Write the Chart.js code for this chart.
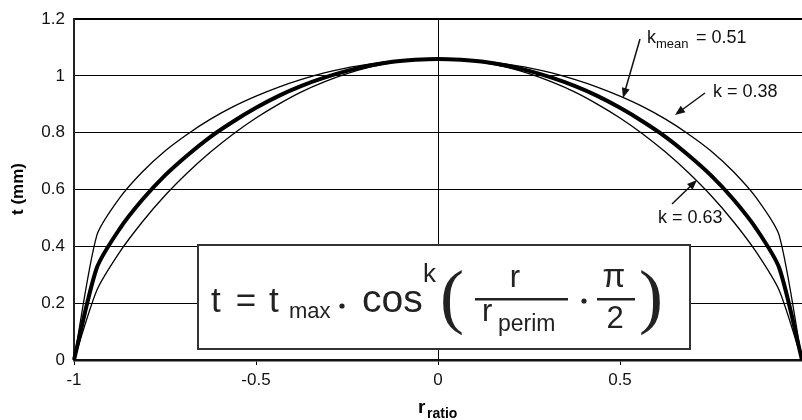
<!DOCTYPE html>
<html>
<head>
<meta charset="utf-8">
<script src="https://cdn.jsdelivr.net/npm/chart.js@4/dist/chart.umd.min.js"></script>
<style>
  body { margin: 0; background: #fff; }
  #wrap { width: 802px; height: 420px; }
</style>
</head>
<body>
<div id="wrap"><canvas id="chart" width="802" height="420"></canvas></div>
<script>
// r_ratio samples and thickness readings (mm) for each k
const rRatio = [-1, -0.9375, -0.875, -0.8125, -0.75, -0.6875, -0.625, -0.5625, -0.5, -0.4375, -0.375, -0.3125, -0.25, -0.1875, -0.125, -0.0625, 0,
                0.0625, 0.125, 0.1875, 0.25, 0.3125, 0.375, 0.4375, 0.5, 0.5625, 0.625, 0.6875, 0.75, 0.8125, 0.875, 0.9375, 1];
const tK038 = [0, 0.438, 0.570, 0.662, 0.736, 0.796, 0.848, 0.892, 0.929, 0.961, 0.988, 1.011, 1.029, 1.042, 1.052, 1.058, 1.060,
               1.058, 1.052, 1.042, 1.029, 1.011, 0.988, 0.961, 0.929, 0.892, 0.848, 0.796, 0.736, 0.662, 0.570, 0.438, 0];
const tK051 = [0, 0.324, 0.461, 0.564, 0.650, 0.722, 0.786, 0.840, 0.888, 0.930, 0.965, 0.994, 1.018, 1.037, 1.050, 1.057, 1.060,
               1.057, 1.050, 1.037, 1.018, 0.994, 0.965, 0.930, 0.888, 0.840, 0.786, 0.722, 0.650, 0.564, 0.461, 0.324, 0];
const tK063 = [0, 0.245, 0.379, 0.486, 0.579, 0.660, 0.732, 0.796, 0.852, 0.901, 0.944, 0.979, 1.008, 1.031, 1.047, 1.057, 1.060,
               1.057, 1.047, 1.031, 1.008, 0.979, 0.944, 0.901, 0.852, 0.796, 0.732, 0.660, 0.579, 0.486, 0.379, 0.245, 0];
const xTicks = [-1, -0.5, 0, 0.5];
const yTicks = [0, 0.2, 0.4, 0.6, 0.8, 1, 1.2];

const SANS = '"Liberation Sans", Arial, sans-serif';
const SERIF = '"Liberation Serif", "Times New Roman", serif';

function pts(ys) {
  return rRatio.map((r, i) => ({ x: r, y: ys[i] }));
}

function arrow(ctx, x1, y1, x2, y2) {
  const a = Math.atan2(y2 - y1, x2 - x1);
  const hl = 10, hw = 4;
  ctx.beginPath();
  ctx.moveTo(x1, y1);
  ctx.lineTo(x2 - Math.cos(a) * hl * 0.8, y2 - Math.sin(a) * hl * 0.8);
  ctx.lineWidth = 1.5;
  ctx.strokeStyle = '#111';
  ctx.stroke();
  ctx.beginPath();
  ctx.moveTo(x2, y2);
  ctx.lineTo(x2 - Math.cos(a) * hl + Math.sin(a) * hw, y2 - Math.sin(a) * hl - Math.cos(a) * hw);
  ctx.lineTo(x2 - Math.cos(a) * hl - Math.sin(a) * hw, y2 - Math.sin(a) * hl + Math.cos(a) * hw);
  ctx.closePath();
  ctx.fillStyle = '#111';
  ctx.fill();
}

function txt(ctx, s, x, y, font, align) {
  ctx.font = font;
  ctx.textAlign = align || 'left';
  ctx.textBaseline = 'alphabetic';
  ctx.fillText(s, x, y);
}

// formula box, annotations, axis titles
const extras = {
  id: 'extras',
  afterDatasetsDraw(chart) {
    const ctx = chart.ctx;
    ctx.save();
    // formula box
    ctx.fillStyle = '#fff';
    ctx.fillRect(198, 245, 492, 104);
    ctx.lineWidth = 2;
    ctx.strokeStyle = '#333';
    ctx.strokeRect(198, 245, 492, 104);

    ctx.fillStyle = '#222';
    txt(ctx, 't', 211, 312, '35px ' + SANS);
    txt(ctx, '=', 246, 312, '35px ' + SANS, 'center');
    txt(ctx, 't', 269, 312, '35px ' + SANS);
    txt(ctx, 'max', 289, 318, '22px ' + SANS);
    ctx.beginPath(); ctx.arc(342, 306, 2.6, 0, Math.PI * 2); ctx.fill();
    txt(ctx, 'cos', 362, 312, '39px ' + SANS);
    txt(ctx, 'k', 423, 282, '26px ' + SANS);
    txt(ctx, '(', 440, 320, '72px ' + SERIF);
    txt(ctx, 'r', 515, 287, '31px ' + SANS, 'center');
    ctx.fillRect(475, 298, 93, 2.5);
    txt(ctx, 'r', 482, 321, '31px ' + SANS);
    txt(ctx, 'perim', 498, 331, '23px ' + SANS);
    ctx.beginPath(); ctx.arc(584, 301, 2.6, 0, Math.PI * 2); ctx.fill();
    txt(ctx, '\u03c0', 614, 287, '33px ' + SANS, 'center');
    ctx.fillRect(597, 298, 38, 2.5);
    txt(ctx, '2', 615, 328, '31px ' + SANS, 'center');
    txt(ctx, ')', 639, 320, '72px ' + SERIF);

    // curve labels
    ctx.fillStyle = '#111';
    txt(ctx, 'k', 647, 43, '18px ' + SANS);
    txt(ctx, 'mean', 656, 48, '13px ' + SANS);
    txt(ctx, '= 0.51', 696, 43, '18px ' + SANS);
    txt(ctx, 'k = 0.38', 713, 97, '18px ' + SANS);
    txt(ctx, 'k = 0.63', 658, 223, '18px ' + SANS);
    arrow(ctx, 640, 39, 623, 98);
    arrow(ctx, 705, 93, 675, 115);
    arrow(ctx, 672, 204, 697, 180);

    // axis titles
    ctx.fillStyle = '#000';
    txt(ctx, 'r', 418, 413, 'bold 19px ' + SANS);
    txt(ctx, 'ratio', 427, 418, 'bold 14px ' + SANS);
    ctx.translate(23, 189);
    ctx.rotate(-Math.PI / 2);
    txt(ctx, 't (mm)', 0, 0, 'bold 17px ' + SANS, 'center');
    ctx.restore();
  }
};

const lineStyle = { borderColor: '#000', pointRadius: 0, tension: 0.25, fill: false, clip: false };

new Chart(document.getElementById('chart'), {
  type: 'line',
  data: {
    datasets: [
      Object.assign({ label: 'k = 0.38', data: pts(tK038), borderWidth: 1.3 }, lineStyle),
      Object.assign({ label: 'k = 0.63', data: pts(tK063), borderWidth: 1.3 }, lineStyle),
      Object.assign({ label: 'kmean = 0.51', data: pts(tK051), borderWidth: 4 }, lineStyle)
    ]
  },
  options: {
    responsive: false,
    animation: false,
    layout: { padding: { top: 16, right: 0, left: 0, bottom: 0 } },
    plugins: { legend: { display: false }, tooltip: { enabled: false } },
    scales: {
      x: {
        type: 'linear',
        min: -1, max: 1,
        afterBuildTicks(scale) { scale.ticks = xTicks.map(v => ({ value: v })); },
        afterFit(scale) { scale.height = 60; scale.paddingRight = 0; scale.paddingLeft = 0; },
        ticks: {
          color: '#111',
          font: { family: SANS, size: 17 },
          padding: 5,
          maxRotation: 0,
          autoSkip: false,
          callback: v => String(v)
        },
        grid: {
          color: c => (c.tick && c.tick.value === 0) ? '#000' : 'rgba(0,0,0,0)',
          tickColor: '#000',
          tickLength: 5,
          lineWidth: 1
        },
        border: { color: '#111', width: 2.5 }
      },
      y: {
        min: 0, max: 1.2,
        afterBuildTicks(scale) { scale.ticks = yTicks.map(v => ({ value: v })); },
        afterFit(scale) { scale.width = 74; },
        ticks: {
          color: '#111',
          font: { family: SANS, size: 17 },
          padding: 9,
          callback: v => String(Math.round(v * 10) / 10)
        },
        grid: {
          color: '#000',
          lineWidth: c => (c.tick && c.tick.value > 1.19) ? 2 : 1,
          drawTicks: false
        },
        border: { color: '#222', width: 2 }
      }
    }
  },
  plugins: [extras]
});
</script>
</body>
</html>
